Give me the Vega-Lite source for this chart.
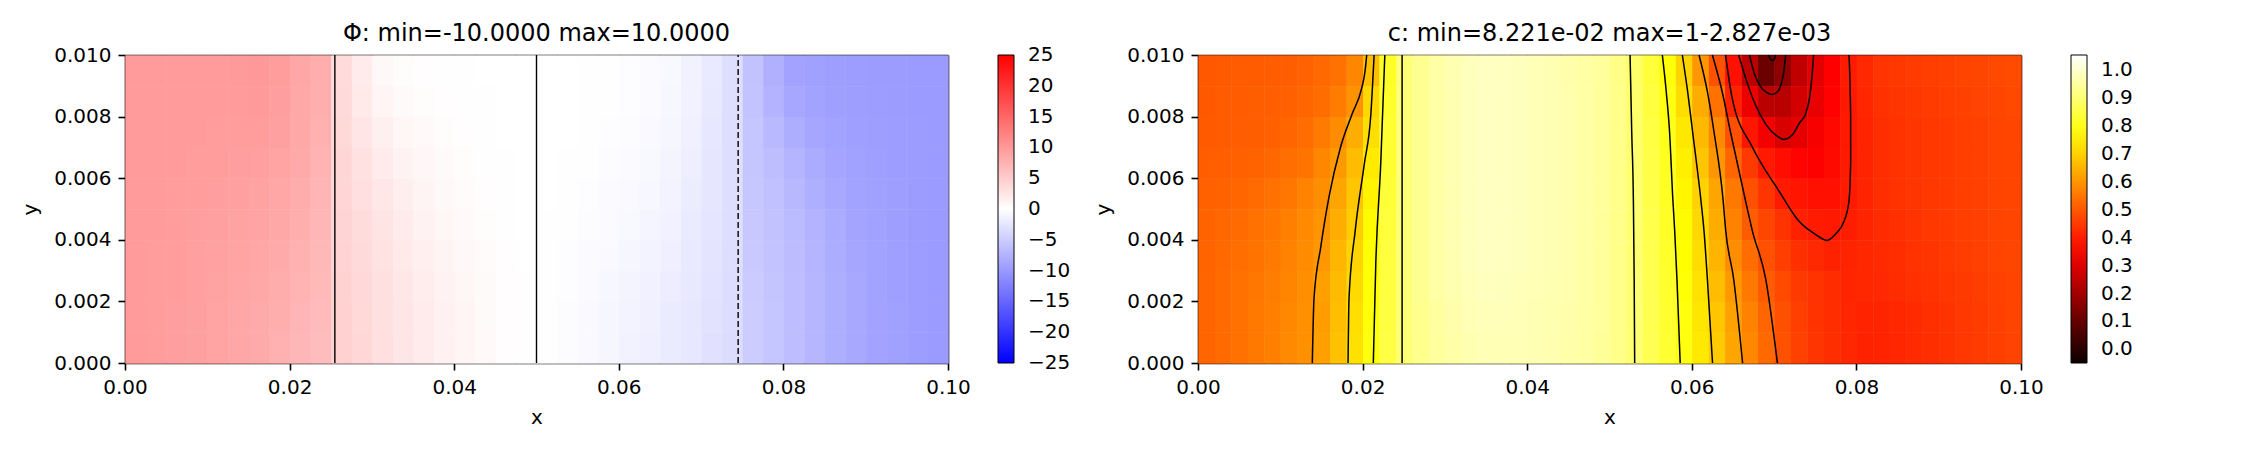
{
"$schema":"https://vega.github.io/schema/vega-lite/v6.json",
"background":"white",
"padding":{"left":20,"top":22,"right":10,"bottom":5},
"bounds":"flush",
"spacing":250,
"config":{
"font":"DejaVu Sans",
"view":{"stroke":null},
"axis":{"domainColor":"black","domainWidth":1.6,"tickColor":"black","tickWidth":1.6,"tickSize":7,"labelPadding":7,"labelFontSize":20,"labelColor":"black","labelFont":"DejaVu Sans","titleFont":"DejaVu Sans","titleFontSize":20,"titleFontWeight":"normal","titleColor":"black","grid":false,"zindex":1,"labelFlush":false,"labelOverlap":false,"labelBound":false},
"legend":{"labelFont":"DejaVu Sans","labelFontSize":20,"labelColor":"black"},
"title":{"font":"DejaVu Sans","fontSize":24,"fontWeight":"normal","color":"black"}
},
"resolve":{"scale":{"color":"independent","x":"independent","y":"independent"},"legend":{"color":"independent"}},
"hconcat":[
{
"width":823,"height":308,
"title":{"text":"Φ: min=-10.0000 max=10.0000","frame":"group","offset":-20,"baseline":"alphabetic"},
"resolve":{"axis":{"x":"independent","y":"independent"}},
"data":{"values":[
{"x":0,"y":0,"v":9.8},{"x":0.0025,"y":0,"v":9.7},{"x":0.005,"y":0,"v":9.5},{"x":0.0075,"y":0,"v":9.3},{"x":0.01,"y":0,"v":9.0},{"x":0.0125,"y":0,"v":8.7},{"x":0.015,"y":0,"v":8.3},{"x":0.0175,"y":0,"v":7.8},{"x":0.02,"y":0,"v":7.2},{"x":0.0225,"y":0,"v":6.6},
{"x":0.025,"y":0,"v":4.5},{"x":0.0275,"y":0,"v":3.9},{"x":0.03,"y":0,"v":3.1},{"x":0.0325,"y":0,"v":2.5},{"x":0.035,"y":0,"v":2.0},{"x":0.0375,"y":0,"v":1.4},{"x":0.04,"y":0,"v":1.0},{"x":0.0425,"y":0,"v":0.55},{"x":0.045,"y":0,"v":0.2},{"x":0.0475,"y":0,"v":0.05},
{"x":0.05,"y":0,"v":-0.1},{"x":0.0525,"y":0,"v":-0.3},{"x":0.055,"y":0,"v":-0.6},{"x":0.0575,"y":0,"v":-0.9},{"x":0.06,"y":0,"v":-1.3},{"x":0.0625,"y":0,"v":-1.6},{"x":0.065,"y":0,"v":-2.0},{"x":0.0675,"y":0,"v":-2.4},{"x":0.07,"y":0,"v":-2.9},{"x":0.0725,"y":0,"v":-3.4},
{"x":0.075,"y":0,"v":-5.0},{"x":0.0775,"y":0,"v":-5.7},{"x":0.08,"y":0,"v":-6.5},{"x":0.0825,"y":0,"v":-7.2},{"x":0.085,"y":0,"v":-7.9},{"x":0.0875,"y":0,"v":-8.5},{"x":0.09,"y":0,"v":-9.0},{"x":0.0925,"y":0,"v":-9.3},{"x":0.095,"y":0,"v":-9.6},{"x":0.0975,"y":0,"v":-9.8},
{"x":0,"y":0.001,"v":9.8},{"x":0.0025,"y":0.001,"v":9.7},{"x":0.005,"y":0.001,"v":9.52},{"x":0.0075,"y":0.001,"v":9.32},{"x":0.01,"y":0.001,"v":9.05},{"x":0.0125,"y":0.001,"v":8.75},{"x":0.015,"y":0.001,"v":8.38},{"x":0.0175,"y":0.001,"v":7.9},{"x":0.02,"y":0.001,"v":7.3},{"x":0.0225,"y":0.001,"v":6.68},
{"x":0.025,"y":0.001,"v":4.48},{"x":0.0275,"y":0.001,"v":3.85},{"x":0.03,"y":0.001,"v":3.08},{"x":0.0325,"y":0.001,"v":2.45},{"x":0.035,"y":0.001,"v":1.92},{"x":0.0375,"y":0.001,"v":1.35},{"x":0.04,"y":0.001,"v":0.95},{"x":0.0425,"y":0.001,"v":0.52},{"x":0.045,"y":0.001,"v":0.2},{"x":0.0475,"y":0.001,"v":0.05},
{"x":0.05,"y":0.001,"v":-0.09},{"x":0.0525,"y":0.001,"v":-0.28},{"x":0.055,"y":0.001,"v":-0.55},{"x":0.0575,"y":0.001,"v":-0.85},{"x":0.06,"y":0.001,"v":-1.22},{"x":0.0625,"y":0.001,"v":-1.52},{"x":0.065,"y":0.001,"v":-1.92},{"x":0.0675,"y":0.001,"v":-2.35},{"x":0.07,"y":0.001,"v":-2.85},{"x":0.0725,"y":0.001,"v":-3.38},
{"x":0.075,"y":0.001,"v":-5.05},{"x":0.0775,"y":0.001,"v":-5.72},{"x":0.08,"y":0.001,"v":-6.5},{"x":0.0825,"y":0.001,"v":-7.2},{"x":0.085,"y":0.001,"v":-7.9},{"x":0.0875,"y":0.001,"v":-8.52},{"x":0.09,"y":0.001,"v":-9.02},{"x":0.0925,"y":0.001,"v":-9.32},{"x":0.095,"y":0.001,"v":-9.6},{"x":0.0975,"y":0.001,"v":-9.8},
{"x":0,"y":0.002,"v":9.8},{"x":0.0025,"y":0.002,"v":9.7},{"x":0.005,"y":0.002,"v":9.58},{"x":0.0075,"y":0.002,"v":9.38},{"x":0.01,"y":0.002,"v":9.15},{"x":0.0125,"y":0.002,"v":8.85},{"x":0.015,"y":0.002,"v":8.52},{"x":0.0175,"y":0.002,"v":8.1},{"x":0.02,"y":0.002,"v":7.5},{"x":0.0225,"y":0.002,"v":6.82},
{"x":0.025,"y":0.002,"v":4.42},{"x":0.0275,"y":0.002,"v":3.75},{"x":0.03,"y":0.002,"v":3.02},{"x":0.0325,"y":0.002,"v":2.35},{"x":0.035,"y":0.002,"v":1.78},{"x":0.0375,"y":0.002,"v":1.25},{"x":0.04,"y":0.002,"v":0.85},{"x":0.0425,"y":0.002,"v":0.48},{"x":0.045,"y":0.002,"v":0.2},{"x":0.0475,"y":0.002,"v":0.05},
{"x":0.05,"y":0.002,"v":-0.06},{"x":0.0525,"y":0.002,"v":-0.22},{"x":0.055,"y":0.002,"v":-0.45},{"x":0.0575,"y":0.002,"v":-0.75},{"x":0.06,"y":0.002,"v":-1.08},{"x":0.0625,"y":0.002,"v":-1.38},{"x":0.065,"y":0.002,"v":-1.78},{"x":0.0675,"y":0.002,"v":-2.25},{"x":0.07,"y":0.002,"v":-2.75},{"x":0.0725,"y":0.002,"v":-3.32},
{"x":0.075,"y":0.002,"v":-5.15},{"x":0.0775,"y":0.002,"v":-5.78},{"x":0.08,"y":0.002,"v":-6.5},{"x":0.0825,"y":0.002,"v":-7.2},{"x":0.085,"y":0.002,"v":-7.9},{"x":0.0875,"y":0.002,"v":-8.58},{"x":0.09,"y":0.002,"v":-9.08},{"x":0.0925,"y":0.002,"v":-9.38},{"x":0.095,"y":0.002,"v":-9.6},{"x":0.0975,"y":0.002,"v":-9.8},
{"x":0,"y":0.003,"v":9.8},{"x":0.0025,"y":0.003,"v":9.72},{"x":0.005,"y":0.003,"v":9.62},{"x":0.0075,"y":0.003,"v":9.45},{"x":0.01,"y":0.003,"v":9.25},{"x":0.0125,"y":0.003,"v":8.98},{"x":0.015,"y":0.003,"v":8.7},{"x":0.0175,"y":0.003,"v":8.3},{"x":0.02,"y":0.003,"v":7.7},{"x":0.0225,"y":0.003,"v":6.98},
{"x":0.025,"y":0.003,"v":4.35},{"x":0.0275,"y":0.003,"v":3.6},{"x":0.03,"y":0.003,"v":2.88},{"x":0.0325,"y":0.003,"v":2.18},{"x":0.035,"y":0.003,"v":1.58},{"x":0.0375,"y":0.003,"v":1.1},{"x":0.04,"y":0.003,"v":0.72},{"x":0.0425,"y":0.003,"v":0.4},{"x":0.045,"y":0.003,"v":0.18},{"x":0.0475,"y":0.003,"v":0.04},
{"x":0.05,"y":0.003,"v":-0.05},{"x":0.0525,"y":0.003,"v":-0.18},{"x":0.055,"y":0.003,"v":-0.35},{"x":0.0575,"y":0.003,"v":-0.62},{"x":0.06,"y":0.003,"v":-0.9},{"x":0.0625,"y":0.003,"v":-1.2},{"x":0.065,"y":0.003,"v":-1.6},{"x":0.0675,"y":0.003,"v":-2.12},{"x":0.07,"y":0.003,"v":-2.65},{"x":0.0725,"y":0.003,"v":-3.28},
{"x":0.075,"y":0.003,"v":-5.25},{"x":0.0775,"y":0.003,"v":-5.85},{"x":0.08,"y":0.003,"v":-6.58},{"x":0.0825,"y":0.003,"v":-7.3},{"x":0.085,"y":0.003,"v":-8.02},{"x":0.0875,"y":0.003,"v":-8.7},{"x":0.09,"y":0.003,"v":-9.15},{"x":0.0925,"y":0.003,"v":-9.42},{"x":0.095,"y":0.003,"v":-9.62},{"x":0.0975,"y":0.003,"v":-9.8},
{"x":0,"y":0.004,"v":9.8},{"x":0.0025,"y":0.004,"v":9.78},{"x":0.005,"y":0.004,"v":9.68},{"x":0.0075,"y":0.004,"v":9.55},{"x":0.01,"y":0.004,"v":9.35},{"x":0.0125,"y":0.004,"v":9.12},{"x":0.015,"y":0.004,"v":8.9},{"x":0.0175,"y":0.004,"v":8.5},{"x":0.02,"y":0.004,"v":7.9},{"x":0.0225,"y":0.004,"v":7.12},
{"x":0.025,"y":0.004,"v":4.25},{"x":0.0275,"y":0.004,"v":3.4},{"x":0.03,"y":0.004,"v":2.62},{"x":0.0325,"y":0.004,"v":1.92},{"x":0.035,"y":0.004,"v":1.32},{"x":0.0375,"y":0.004,"v":0.9},{"x":0.04,"y":0.004,"v":0.58},{"x":0.0425,"y":0.004,"v":0.3},{"x":0.045,"y":0.004,"v":0.12},{"x":0.0475,"y":0.004,"v":0.03},
{"x":0.05,"y":0.004,"v":-0.05},{"x":0.0525,"y":0.004,"v":-0.12},{"x":0.055,"y":0.004,"v":-0.25},{"x":0.0575,"y":0.004,"v":-0.48},{"x":0.06,"y":0.004,"v":-0.7},{"x":0.0625,"y":0.004,"v":-1.0},{"x":0.065,"y":0.004,"v":-1.4},{"x":0.0675,"y":0.004,"v":-1.98},{"x":0.07,"y":0.004,"v":-2.55},{"x":0.0725,"y":0.004,"v":-3.22},
{"x":0.075,"y":0.004,"v":-5.35},{"x":0.0775,"y":0.004,"v":-5.95},{"x":0.08,"y":0.004,"v":-6.72},{"x":0.0825,"y":0.004,"v":-7.5},{"x":0.085,"y":0.004,"v":-8.28},{"x":0.0875,"y":0.004,"v":-8.9},{"x":0.09,"y":0.004,"v":-9.25},{"x":0.0925,"y":0.004,"v":-9.48},{"x":0.095,"y":0.004,"v":-9.68},{"x":0.0975,"y":0.004,"v":-9.8},
{"x":0,"y":0.005,"v":9.8},{"x":0.0025,"y":0.005,"v":9.8},{"x":0.005,"y":0.005,"v":9.72},{"x":0.0075,"y":0.005,"v":9.65},{"x":0.01,"y":0.005,"v":9.48},{"x":0.0125,"y":0.005,"v":9.3},{"x":0.015,"y":0.005,"v":9.12},{"x":0.0175,"y":0.005,"v":8.75},{"x":0.02,"y":0.005,"v":8.12},{"x":0.0225,"y":0.005,"v":7.3},
{"x":0.025,"y":0.005,"v":4.12},{"x":0.0275,"y":0.005,"v":3.18},{"x":0.03,"y":0.005,"v":2.32},{"x":0.0325,"y":0.005,"v":1.62},{"x":0.035,"y":0.005,"v":1.08},{"x":0.0375,"y":0.005,"v":0.7},{"x":0.04,"y":0.005,"v":0.42},{"x":0.0425,"y":0.005,"v":0.21},{"x":0.045,"y":0.005,"v":0.09},{"x":0.0475,"y":0.005,"v":0.02},
{"x":0.05,"y":0.005,"v":-0.04},{"x":0.0525,"y":0.005,"v":-0.09},{"x":0.055,"y":0.005,"v":-0.18},{"x":0.0575,"y":0.005,"v":-0.35},{"x":0.06,"y":0.005,"v":-0.54},{"x":0.0625,"y":0.005,"v":-0.82},{"x":0.065,"y":0.005,"v":-1.22},{"x":0.0675,"y":0.005,"v":-1.82},{"x":0.07,"y":0.005,"v":-2.48},{"x":0.0725,"y":0.005,"v":-3.2},
{"x":0.075,"y":0.005,"v":-5.45},{"x":0.0775,"y":0.005,"v":-6.12},{"x":0.08,"y":0.005,"v":-7.0},{"x":0.0825,"y":0.005,"v":-7.82},{"x":0.085,"y":0.005,"v":-8.55},{"x":0.0875,"y":0.005,"v":-9.08},{"x":0.09,"y":0.005,"v":-9.35},{"x":0.0925,"y":0.005,"v":-9.52},{"x":0.095,"y":0.005,"v":-9.7},{"x":0.0975,"y":0.005,"v":-9.8},
{"x":0,"y":0.006,"v":9.8},{"x":0.0025,"y":0.006,"v":9.8},{"x":0.005,"y":0.006,"v":9.78},{"x":0.0075,"y":0.006,"v":9.75},{"x":0.01,"y":0.006,"v":9.62},{"x":0.0125,"y":0.006,"v":9.5},{"x":0.015,"y":0.006,"v":9.38},{"x":0.0175,"y":0.006,"v":9.05},{"x":0.02,"y":0.006,"v":8.38},{"x":0.0225,"y":0.006,"v":7.5},
{"x":0.025,"y":0.006,"v":3.98},{"x":0.0275,"y":0.006,"v":2.92},{"x":0.03,"y":0.006,"v":1.98},{"x":0.0325,"y":0.006,"v":1.28},{"x":0.035,"y":0.006,"v":0.82},{"x":0.0375,"y":0.006,"v":0.5},{"x":0.04,"y":0.006,"v":0.28},{"x":0.0425,"y":0.006,"v":0.14},{"x":0.045,"y":0.006,"v":0.06},{"x":0.0475,"y":0.006,"v":0.01},
{"x":0.05,"y":0.006,"v":-0.01},{"x":0.0525,"y":0.006,"v":-0.06},{"x":0.055,"y":0.006,"v":-0.12},{"x":0.0575,"y":0.006,"v":-0.25},{"x":0.06,"y":0.006,"v":-0.41},{"x":0.0625,"y":0.006,"v":-0.68},{"x":0.065,"y":0.006,"v":-1.08},{"x":0.0675,"y":0.006,"v":-1.68},{"x":0.07,"y":0.006,"v":-2.42},{"x":0.0725,"y":0.006,"v":-3.2},
{"x":0.075,"y":0.006,"v":-5.55},{"x":0.0775,"y":0.006,"v":-6.38},{"x":0.08,"y":0.006,"v":-7.4},{"x":0.0825,"y":0.006,"v":-8.28},{"x":0.085,"y":0.006,"v":-8.85},{"x":0.0875,"y":0.006,"v":-9.22},{"x":0.09,"y":0.006,"v":-9.45},{"x":0.0925,"y":0.006,"v":-9.58},{"x":0.095,"y":0.006,"v":-9.7},{"x":0.0975,"y":0.006,"v":-9.8},
{"x":0,"y":0.007,"v":9.8},{"x":0.0025,"y":0.007,"v":9.8},{"x":0.005,"y":0.007,"v":9.8},{"x":0.0075,"y":0.007,"v":9.8},{"x":0.01,"y":0.007,"v":9.72},{"x":0.0125,"y":0.007,"v":9.68},{"x":0.015,"y":0.007,"v":9.62},{"x":0.0175,"y":0.007,"v":9.3},{"x":0.02,"y":0.007,"v":8.52},{"x":0.0225,"y":0.007,"v":7.7},
{"x":0.025,"y":0.007,"v":3.8},{"x":0.0275,"y":0.007,"v":2.6},{"x":0.03,"y":0.007,"v":1.52},{"x":0.0325,"y":0.007,"v":0.9},{"x":0.035,"y":0.007,"v":0.56},{"x":0.0375,"y":0.007,"v":0.32},{"x":0.04,"y":0.007,"v":0.16},{"x":0.0425,"y":0.007,"v":0.08},{"x":0.045,"y":0.007,"v":0.04},{"x":0.0475,"y":0.007,"v":0},
{"x":0.05,"y":0.007,"v":0},{"x":0.0525,"y":0.007,"v":-0.04},{"x":0.055,"y":0.007,"v":-0.09},{"x":0.0575,"y":0.007,"v":-0.18},{"x":0.06,"y":0.007,"v":-0.31},{"x":0.0625,"y":0.007,"v":-0.54},{"x":0.065,"y":0.007,"v":-0.92},{"x":0.0675,"y":0.007,"v":-1.52},{"x":0.07,"y":0.007,"v":-2.35},{"x":0.0725,"y":0.007,"v":-3.2},
{"x":0.075,"y":0.007,"v":-5.7},{"x":0.0775,"y":0.007,"v":-6.82},{"x":0.08,"y":0.007,"v":-7.95},{"x":0.0825,"y":0.007,"v":-8.7},{"x":0.085,"y":0.007,"v":-9.12},{"x":0.0875,"y":0.007,"v":-9.38},{"x":0.09,"y":0.007,"v":-9.55},{"x":0.0925,"y":0.007,"v":-9.62},{"x":0.095,"y":0.007,"v":-9.72},{"x":0.0975,"y":0.007,"v":-9.8},
{"x":0,"y":0.008,"v":9.8},{"x":0.0025,"y":0.008,"v":9.8},{"x":0.005,"y":0.008,"v":9.8},{"x":0.0075,"y":0.008,"v":9.8},{"x":0.01,"y":0.008,"v":9.78},{"x":0.0125,"y":0.008,"v":9.82},{"x":0.015,"y":0.008,"v":9.88},{"x":0.0175,"y":0.008,"v":9.5},{"x":0.02,"y":0.008,"v":8.58},{"x":0.0225,"y":0.008,"v":7.9},
{"x":0.025,"y":0.008,"v":3.6},{"x":0.0275,"y":0.008,"v":2.2},{"x":0.03,"y":0.008,"v":0.98},{"x":0.0325,"y":0.008,"v":0.5},{"x":0.035,"y":0.008,"v":0.29},{"x":0.0375,"y":0.008,"v":0.18},{"x":0.04,"y":0.008,"v":0.09},{"x":0.0425,"y":0.008,"v":0.05},{"x":0.045,"y":0.008,"v":0.03},{"x":0.0475,"y":0.008,"v":0},
{"x":0.05,"y":0.008,"v":0},{"x":0.0525,"y":0.008,"v":-0.01},{"x":0.055,"y":0.008,"v":-0.06},{"x":0.0575,"y":0.008,"v":-0.12},{"x":0.06,"y":0.008,"v":-0.24},{"x":0.0625,"y":0.008,"v":-0.41},{"x":0.065,"y":0.008,"v":-0.78},{"x":0.0675,"y":0.008,"v":-1.38},{"x":0.07,"y":0.008,"v":-2.25},{"x":0.0725,"y":0.008,"v":-3.2},
{"x":0.075,"y":0.008,"v":-5.9},{"x":0.0775,"y":0.008,"v":-7.48},{"x":0.08,"y":0.008,"v":-8.65},{"x":0.0825,"y":0.008,"v":-9.1},{"x":0.085,"y":0.008,"v":-9.38},{"x":0.0875,"y":0.008,"v":-9.52},{"x":0.09,"y":0.008,"v":-9.65},{"x":0.0925,"y":0.008,"v":-9.68},{"x":0.095,"y":0.008,"v":-9.78},{"x":0.0975,"y":0.008,"v":-9.8},
{"x":0,"y":0.009,"v":9.8},{"x":0.0025,"y":0.009,"v":9.8},{"x":0.005,"y":0.009,"v":9.8},{"x":0.0075,"y":0.009,"v":9.8},{"x":0.01,"y":0.009,"v":9.8},{"x":0.0125,"y":0.009,"v":9.9},{"x":0.015,"y":0.009,"v":10},{"x":0.0175,"y":0.009,"v":9.6},{"x":0.02,"y":0.009,"v":8.6},{"x":0.0225,"y":0.009,"v":8.0},
{"x":0.025,"y":0.009,"v":3.5},{"x":0.0275,"y":0.009,"v":2.0},{"x":0.03,"y":0.009,"v":0.7},{"x":0.0325,"y":0.009,"v":0.3},{"x":0.035,"y":0.009,"v":0.15},{"x":0.0375,"y":0.009,"v":0.1},{"x":0.04,"y":0.009,"v":0.05},{"x":0.0425,"y":0.009,"v":0.03},{"x":0.045,"y":0.009,"v":0.02},{"x":0.0475,"y":0.009,"v":0},
{"x":0.05,"y":0.009,"v":0},{"x":0.0525,"y":0.009,"v":0},{"x":0.055,"y":0.009,"v":-0.05},{"x":0.0575,"y":0.009,"v":-0.1},{"x":0.06,"y":0.009,"v":-0.2},{"x":0.0625,"y":0.009,"v":-0.35},{"x":0.065,"y":0.009,"v":-0.7},{"x":0.0675,"y":0.009,"v":-1.3},{"x":0.07,"y":0.009,"v":-2.2},{"x":0.0725,"y":0.009,"v":-3.2},
{"x":0.075,"y":0.009,"v":-6.0},{"x":0.0775,"y":0.009,"v":-7.8},{"x":0.08,"y":0.009,"v":-9.0},{"x":0.0825,"y":0.009,"v":-9.3},{"x":0.085,"y":0.009,"v":-9.5},{"x":0.0875,"y":0.009,"v":-9.6},{"x":0.09,"y":0.009,"v":-9.7},{"x":0.0925,"y":0.009,"v":-9.7},{"x":0.095,"y":0.009,"v":-9.8},{"x":0.0975,"y":0.009,"v":-9.8}
]},
"encoding":{
"x":{"field":"x","type":"quantitative","bin":{"binned":true,"step":0.0025},"scale":{"domain":[0,0.1],"nice":false,"zero":false},"axis":{"title":"x","values":[0,0.02,0.04,0.06,0.08,0.1],"format":".2f","titlePadding":10}},
"y":{"field":"y","type":"quantitative","bin":{"binned":true,"step":0.001},"scale":{"domain":[0,0.01],"nice":false,"zero":false},"axis":{"title":"y","values":[0,0.002,0.004,0.006,0.008,0.01],"format":".3f","titlePadding":13}},
"color":{"field":"v","type":"quantitative","scale":{"domain":[-25.02,0,25.02],"range":["#0000ff","#ffffff","#ff0000"],"interpolate":"rgb"},
"legend":{"type":"gradient","title":null,"orient":"right","offset":50,"padding":0,"gradientLength":308,"gradientThickness":16,"values":[-25,-20,-15,-10,-5,0,5,10,15,20,25],"format":"d","labelOffset":14,"labelBaseline":"middle","labelOverlap":false,"gradientStrokeColor":"black","gradientStrokeWidth":1}}
},
"layer":[
{"mark":{"type":"rect","binSpacing":0}},
{"mark":{"type":"rect","binSpacing":0},
"encoding":{
"x":{"field":"x","type":"quantitative","bin":{"binned":true,"step":0.0025},"axis":null},
"y":{"field":"y","type":"quantitative","bin":{"binned":true,"step":0.001},"axis":null}
}},
{"data":{"values":[
{"id":"a","lv":5,"o":0,"x":0.0255,"y":0},{"id":"a","lv":5,"o":1,"x":0.0255,"y":0.01},
{"id":"b","lv":0,"o":0,"x":0.05,"y":0},{"id":"b","lv":0,"o":1,"x":0.05,"y":0.01},
{"id":"c","lv":-5,"o":0,"x":0.0745,"y":0},{"id":"c","lv":-5,"o":1,"x":0.0745,"y":0.01}
]},
"mark":{"type":"line","color":"black","strokeWidth":1.4,"strokeCap":"butt"},
"encoding":{
"x":{"field":"x","type":"quantitative","axis":{"orient":"top","labels":false,"ticks":false,"title":null}},
"y":{"field":"y","type":"quantitative","axis":{"orient":"right","labels":false,"ticks":false,"title":null}},
"color":{"value":"black"},
"detail":{"field":"id"},
"order":{"field":"o"},
"strokeDash":{"condition":{"test":"datum.lv < 0","value":[6,3]},"value":[1,0]}
}}
]
},
{
"width":823,"height":308,
"title":{"text":"c: min=8.221e-02 max=1-2.827e-03","frame":"group","offset":-20,"baseline":"alphabetic"},
"resolve":{"axis":{"x":"independent","y":"independent"}},
"data":{"values":[
{"x":0,"y":0.009,"c":0.5},{"x":0.002,"y":0.009,"c":0.502},{"x":0.004,"y":0.009,"c":0.504},{"x":0.006,"y":0.009,"c":0.506},{"x":0.008,"y":0.009,"c":0.507},{"x":0.01,"y":0.009,"c":0.509},{"x":0.012,"y":0.009,"c":0.516},{"x":0.014,"y":0.009,"c":0.528},{"x":0.016,"y":0.009,"c":0.54},{"x":0.018,"y":0.009,"c":0.576},
{"x":0.02,"y":0.009,"c":0.67},{"x":0.022,"y":0.009,"c":0.818},{"x":0.024,"y":0.009,"c":0.903},{"x":0.026,"y":0.009,"c":0.934},{"x":0.028,"y":0.009,"c":0.957},{"x":0.03,"y":0.009,"c":0.97},{"x":0.032,"y":0.009,"c":0.983},{"x":0.034,"y":0.009,"c":0.988},{"x":0.036,"y":0.009,"c":0.985},{"x":0.038,"y":0.009,"c":0.982},
{"x":0.04,"y":0.009,"c":0.977},{"x":0.042,"y":0.009,"c":0.97},{"x":0.044,"y":0.009,"c":0.963},{"x":0.046,"y":0.009,"c":0.955},{"x":0.048,"y":0.009,"c":0.945},{"x":0.05,"y":0.009,"c":0.924},{"x":0.052,"y":0.009,"c":0.888},{"x":0.054,"y":0.009,"c":0.839},{"x":0.056,"y":0.009,"c":0.784},{"x":0.058,"y":0.009,"c":0.704},
{"x":0.06,"y":0.009,"c":0.605},{"x":0.062,"y":0.009,"c":0.49},{"x":0.064,"y":0.009,"c":0.38},{"x":0.066,"y":0.009,"c":0.243},{"x":0.068,"y":0.009,"c":0.11},{"x":0.07,"y":0.009,"c":0.17},{"x":0.072,"y":0.009,"c":0.25},{"x":0.074,"y":0.009,"c":0.307},{"x":0.076,"y":0.009,"c":0.352},{"x":0.078,"y":0.009,"c":0.398},
{"x":0.08,"y":0.009,"c":0.42},{"x":0.082,"y":0.009,"c":0.44},{"x":0.084,"y":0.009,"c":0.446},{"x":0.086,"y":0.009,"c":0.451},{"x":0.088,"y":0.009,"c":0.457},{"x":0.09,"y":0.009,"c":0.462},{"x":0.092,"y":0.009,"c":0.466},{"x":0.094,"y":0.009,"c":0.47},{"x":0.096,"y":0.009,"c":0.474},{"x":0.098,"y":0.009,"c":0.478},
{"x":0,"y":0.008,"c":0.5},{"x":0.002,"y":0.008,"c":0.504},{"x":0.004,"y":0.008,"c":0.506},{"x":0.006,"y":0.008,"c":0.509},{"x":0.008,"y":0.008,"c":0.511},{"x":0.01,"y":0.008,"c":0.514},{"x":0.012,"y":0.008,"c":0.521},{"x":0.014,"y":0.008,"c":0.534},{"x":0.016,"y":0.008,"c":0.558},{"x":0.018,"y":0.008,"c":0.595},
{"x":0.02,"y":0.008,"c":0.71},{"x":0.022,"y":0.008,"c":0.822},{"x":0.024,"y":0.008,"c":0.903},{"x":0.026,"y":0.008,"c":0.934},{"x":0.028,"y":0.008,"c":0.957},{"x":0.03,"y":0.008,"c":0.97},{"x":0.032,"y":0.008,"c":0.983},{"x":0.034,"y":0.008,"c":0.988},{"x":0.036,"y":0.008,"c":0.985},{"x":0.038,"y":0.008,"c":0.982},
{"x":0.04,"y":0.008,"c":0.977},{"x":0.042,"y":0.008,"c":0.971},{"x":0.044,"y":0.008,"c":0.965},{"x":0.046,"y":0.008,"c":0.957},{"x":0.048,"y":0.008,"c":0.946},{"x":0.05,"y":0.008,"c":0.925},{"x":0.052,"y":0.008,"c":0.891},{"x":0.054,"y":0.008,"c":0.844},{"x":0.056,"y":0.008,"c":0.796},{"x":0.058,"y":0.008,"c":0.719},
{"x":0.06,"y":0.008,"c":0.638},{"x":0.062,"y":0.008,"c":0.542},{"x":0.064,"y":0.008,"c":0.41},{"x":0.066,"y":0.008,"c":0.324},{"x":0.068,"y":0.008,"c":0.24},{"x":0.07,"y":0.008,"c":0.238},{"x":0.072,"y":0.008,"c":0.281},{"x":0.074,"y":0.008,"c":0.318},{"x":0.076,"y":0.008,"c":0.355},{"x":0.078,"y":0.008,"c":0.396},
{"x":0.08,"y":0.008,"c":0.417},{"x":0.082,"y":0.008,"c":0.435},{"x":0.084,"y":0.008,"c":0.441},{"x":0.086,"y":0.008,"c":0.446},{"x":0.088,"y":0.008,"c":0.452},{"x":0.09,"y":0.008,"c":0.457},{"x":0.092,"y":0.008,"c":0.461},{"x":0.094,"y":0.008,"c":0.465},{"x":0.096,"y":0.008,"c":0.469},{"x":0.098,"y":0.008,"c":0.473},
{"x":0,"y":0.007,"c":0.502},{"x":0.002,"y":0.007,"c":0.505},{"x":0.004,"y":0.007,"c":0.508},{"x":0.006,"y":0.007,"c":0.51},{"x":0.008,"y":0.007,"c":0.514},{"x":0.01,"y":0.007,"c":0.521},{"x":0.012,"y":0.007,"c":0.534},{"x":0.014,"y":0.007,"c":0.555},{"x":0.016,"y":0.007,"c":0.585},{"x":0.018,"y":0.007,"c":0.64},
{"x":0.02,"y":0.007,"c":0.722},{"x":0.022,"y":0.007,"c":0.832},{"x":0.024,"y":0.007,"c":0.903},{"x":0.026,"y":0.007,"c":0.934},{"x":0.028,"y":0.007,"c":0.957},{"x":0.03,"y":0.007,"c":0.97},{"x":0.032,"y":0.007,"c":0.983},{"x":0.034,"y":0.007,"c":0.988},{"x":0.036,"y":0.007,"c":0.985},{"x":0.038,"y":0.007,"c":0.982},
{"x":0.04,"y":0.007,"c":0.977},{"x":0.042,"y":0.007,"c":0.971},{"x":0.044,"y":0.007,"c":0.965},{"x":0.046,"y":0.007,"c":0.957},{"x":0.048,"y":0.007,"c":0.946},{"x":0.05,"y":0.007,"c":0.925},{"x":0.052,"y":0.007,"c":0.893},{"x":0.054,"y":0.007,"c":0.85},{"x":0.056,"y":0.007,"c":0.806},{"x":0.058,"y":0.007,"c":0.737},
{"x":0.06,"y":0.007,"c":0.66},{"x":0.062,"y":0.007,"c":0.582},{"x":0.064,"y":0.007,"c":0.484},{"x":0.066,"y":0.007,"c":0.39},{"x":0.068,"y":0.007,"c":0.336},{"x":0.07,"y":0.007,"c":0.292},{"x":0.072,"y":0.007,"c":0.311},{"x":0.074,"y":0.007,"c":0.339},{"x":0.076,"y":0.007,"c":0.367},{"x":0.078,"y":0.007,"c":0.395},
{"x":0.08,"y":0.007,"c":0.413},{"x":0.082,"y":0.007,"c":0.43},{"x":0.084,"y":0.007,"c":0.436},{"x":0.086,"y":0.007,"c":0.441},{"x":0.088,"y":0.007,"c":0.447},{"x":0.09,"y":0.007,"c":0.452},{"x":0.092,"y":0.007,"c":0.456},{"x":0.094,"y":0.007,"c":0.46},{"x":0.096,"y":0.007,"c":0.464},{"x":0.098,"y":0.007,"c":0.468},
{"x":0,"y":0.006,"c":0.507},{"x":0.002,"y":0.006,"c":0.511},{"x":0.004,"y":0.006,"c":0.514},{"x":0.006,"y":0.006,"c":0.518},{"x":0.008,"y":0.006,"c":0.525},{"x":0.01,"y":0.006,"c":0.535},{"x":0.012,"y":0.006,"c":0.545},{"x":0.014,"y":0.006,"c":0.577},{"x":0.016,"y":0.006,"c":0.606},{"x":0.018,"y":0.006,"c":0.665},
{"x":0.02,"y":0.006,"c":0.74},{"x":0.022,"y":0.006,"c":0.83},{"x":0.024,"y":0.006,"c":0.903},{"x":0.026,"y":0.006,"c":0.934},{"x":0.028,"y":0.006,"c":0.957},{"x":0.03,"y":0.006,"c":0.97},{"x":0.032,"y":0.006,"c":0.983},{"x":0.034,"y":0.006,"c":0.988},{"x":0.036,"y":0.006,"c":0.985},{"x":0.038,"y":0.006,"c":0.982},
{"x":0.04,"y":0.006,"c":0.977},{"x":0.042,"y":0.006,"c":0.971},{"x":0.044,"y":0.006,"c":0.965},{"x":0.046,"y":0.006,"c":0.957},{"x":0.048,"y":0.006,"c":0.946},{"x":0.05,"y":0.006,"c":0.926},{"x":0.052,"y":0.006,"c":0.896},{"x":0.054,"y":0.006,"c":0.853},{"x":0.056,"y":0.006,"c":0.811},{"x":0.058,"y":0.006,"c":0.75},
{"x":0.06,"y":0.006,"c":0.68},{"x":0.062,"y":0.006,"c":0.6},{"x":0.064,"y":0.006,"c":0.52},{"x":0.066,"y":0.006,"c":0.45},{"x":0.068,"y":0.006,"c":0.395},{"x":0.07,"y":0.006,"c":0.377},{"x":0.072,"y":0.006,"c":0.359},{"x":0.074,"y":0.006,"c":0.351},{"x":0.076,"y":0.006,"c":0.37},{"x":0.078,"y":0.006,"c":0.397},
{"x":0.08,"y":0.006,"c":0.414},{"x":0.082,"y":0.006,"c":0.43},{"x":0.084,"y":0.006,"c":0.436},{"x":0.086,"y":0.006,"c":0.441},{"x":0.088,"y":0.006,"c":0.447},{"x":0.09,"y":0.006,"c":0.452},{"x":0.092,"y":0.006,"c":0.456},{"x":0.094,"y":0.006,"c":0.46},{"x":0.096,"y":0.006,"c":0.464},{"x":0.098,"y":0.006,"c":0.468},
{"x":0,"y":0.005,"c":0.513},{"x":0.002,"y":0.005,"c":0.518},{"x":0.004,"y":0.005,"c":0.523},{"x":0.006,"y":0.005,"c":0.53},{"x":0.008,"y":0.005,"c":0.54},{"x":0.01,"y":0.005,"c":0.55},{"x":0.012,"y":0.005,"c":0.57},{"x":0.014,"y":0.005,"c":0.59},{"x":0.016,"y":0.005,"c":0.626},{"x":0.018,"y":0.005,"c":0.679},
{"x":0.02,"y":0.005,"c":0.755},{"x":0.022,"y":0.005,"c":0.836},{"x":0.024,"y":0.005,"c":0.903},{"x":0.026,"y":0.005,"c":0.934},{"x":0.028,"y":0.005,"c":0.957},{"x":0.03,"y":0.005,"c":0.97},{"x":0.032,"y":0.005,"c":0.983},{"x":0.034,"y":0.005,"c":0.988},{"x":0.036,"y":0.005,"c":0.985},{"x":0.038,"y":0.005,"c":0.982},
{"x":0.04,"y":0.005,"c":0.977},{"x":0.042,"y":0.005,"c":0.971},{"x":0.044,"y":0.005,"c":0.965},{"x":0.046,"y":0.005,"c":0.957},{"x":0.048,"y":0.005,"c":0.946},{"x":0.05,"y":0.005,"c":0.927},{"x":0.052,"y":0.005,"c":0.898},{"x":0.054,"y":0.005,"c":0.856},{"x":0.056,"y":0.005,"c":0.815},{"x":0.058,"y":0.005,"c":0.76},
{"x":0.06,"y":0.005,"c":0.7},{"x":0.062,"y":0.005,"c":0.626},{"x":0.064,"y":0.005,"c":0.552},{"x":0.066,"y":0.005,"c":0.486},{"x":0.068,"y":0.005,"c":0.441},{"x":0.07,"y":0.005,"c":0.397},{"x":0.072,"y":0.005,"c":0.388},{"x":0.074,"y":0.005,"c":0.38},{"x":0.076,"y":0.005,"c":0.381},{"x":0.078,"y":0.005,"c":0.397},
{"x":0.08,"y":0.005,"c":0.413},{"x":0.082,"y":0.005,"c":0.43},{"x":0.084,"y":0.005,"c":0.436},{"x":0.086,"y":0.005,"c":0.441},{"x":0.088,"y":0.005,"c":0.447},{"x":0.09,"y":0.005,"c":0.452},{"x":0.092,"y":0.005,"c":0.456},{"x":0.094,"y":0.005,"c":0.46},{"x":0.096,"y":0.005,"c":0.464},{"x":0.098,"y":0.005,"c":0.468},
{"x":0,"y":0.004,"c":0.518},{"x":0.002,"y":0.004,"c":0.524},{"x":0.004,"y":0.004,"c":0.53},{"x":0.006,"y":0.004,"c":0.54},{"x":0.008,"y":0.004,"c":0.55},{"x":0.01,"y":0.004,"c":0.563},{"x":0.012,"y":0.004,"c":0.58},{"x":0.014,"y":0.004,"c":0.597},{"x":0.016,"y":0.004,"c":0.641},{"x":0.018,"y":0.004,"c":0.693},
{"x":0.02,"y":0.004,"c":0.768},{"x":0.022,"y":0.004,"c":0.84},{"x":0.024,"y":0.004,"c":0.903},{"x":0.026,"y":0.004,"c":0.934},{"x":0.028,"y":0.004,"c":0.957},{"x":0.03,"y":0.004,"c":0.97},{"x":0.032,"y":0.004,"c":0.983},{"x":0.034,"y":0.004,"c":0.988},{"x":0.036,"y":0.004,"c":0.985},{"x":0.038,"y":0.004,"c":0.982},
{"x":0.04,"y":0.004,"c":0.977},{"x":0.042,"y":0.004,"c":0.971},{"x":0.044,"y":0.004,"c":0.965},{"x":0.046,"y":0.004,"c":0.957},{"x":0.048,"y":0.004,"c":0.946},{"x":0.05,"y":0.004,"c":0.927},{"x":0.052,"y":0.004,"c":0.898},{"x":0.054,"y":0.004,"c":0.858},{"x":0.056,"y":0.004,"c":0.818},{"x":0.058,"y":0.004,"c":0.769},
{"x":0.06,"y":0.004,"c":0.711},{"x":0.062,"y":0.004,"c":0.638},{"x":0.064,"y":0.004,"c":0.571},{"x":0.066,"y":0.004,"c":0.506},{"x":0.068,"y":0.004,"c":0.47},{"x":0.07,"y":0.004,"c":0.439},{"x":0.072,"y":0.004,"c":0.408},{"x":0.074,"y":0.004,"c":0.398},{"x":0.076,"y":0.004,"c":0.396},{"x":0.078,"y":0.004,"c":0.402},
{"x":0.08,"y":0.004,"c":0.414},{"x":0.082,"y":0.004,"c":0.425},{"x":0.084,"y":0.004,"c":0.432},{"x":0.086,"y":0.004,"c":0.439},{"x":0.088,"y":0.004,"c":0.446},{"x":0.09,"y":0.004,"c":0.452},{"x":0.092,"y":0.004,"c":0.456},{"x":0.094,"y":0.004,"c":0.46},{"x":0.096,"y":0.004,"c":0.464},{"x":0.098,"y":0.004,"c":0.468},
{"x":0,"y":0.003,"c":0.519},{"x":0.002,"y":0.003,"c":0.527},{"x":0.004,"y":0.003,"c":0.535},{"x":0.006,"y":0.003,"c":0.545},{"x":0.008,"y":0.003,"c":0.555},{"x":0.01,"y":0.003,"c":0.568},{"x":0.012,"y":0.003,"c":0.585},{"x":0.014,"y":0.003,"c":0.605},{"x":0.016,"y":0.003,"c":0.654},{"x":0.018,"y":0.003,"c":0.704},
{"x":0.02,"y":0.003,"c":0.778},{"x":0.022,"y":0.003,"c":0.844},{"x":0.024,"y":0.003,"c":0.903},{"x":0.026,"y":0.003,"c":0.934},{"x":0.028,"y":0.003,"c":0.957},{"x":0.03,"y":0.003,"c":0.97},{"x":0.032,"y":0.003,"c":0.983},{"x":0.034,"y":0.003,"c":0.988},{"x":0.036,"y":0.003,"c":0.985},{"x":0.038,"y":0.003,"c":0.982},
{"x":0.04,"y":0.003,"c":0.977},{"x":0.042,"y":0.003,"c":0.971},{"x":0.044,"y":0.003,"c":0.965},{"x":0.046,"y":0.003,"c":0.957},{"x":0.048,"y":0.003,"c":0.946},{"x":0.05,"y":0.003,"c":0.927},{"x":0.052,"y":0.003,"c":0.9},{"x":0.054,"y":0.003,"c":0.861},{"x":0.056,"y":0.003,"c":0.822},{"x":0.058,"y":0.003,"c":0.775},
{"x":0.06,"y":0.003,"c":0.719},{"x":0.062,"y":0.003,"c":0.653},{"x":0.064,"y":0.003,"c":0.586},{"x":0.066,"y":0.003,"c":0.532},{"x":0.068,"y":0.003,"c":0.488},{"x":0.07,"y":0.003,"c":0.456},{"x":0.072,"y":0.003,"c":0.434},{"x":0.074,"y":0.003,"c":0.422},{"x":0.076,"y":0.003,"c":0.41},{"x":0.078,"y":0.003,"c":0.414},
{"x":0.08,"y":0.003,"c":0.418},{"x":0.082,"y":0.003,"c":0.423},{"x":0.084,"y":0.003,"c":0.429},{"x":0.086,"y":0.003,"c":0.436},{"x":0.088,"y":0.003,"c":0.442},{"x":0.09,"y":0.003,"c":0.448},{"x":0.092,"y":0.003,"c":0.454},{"x":0.094,"y":0.003,"c":0.459},{"x":0.096,"y":0.003,"c":0.464},{"x":0.098,"y":0.003,"c":0.469},
{"x":0,"y":0.002,"c":0.52},{"x":0.002,"y":0.002,"c":0.53},{"x":0.004,"y":0.002,"c":0.54},{"x":0.006,"y":0.002,"c":0.55},{"x":0.008,"y":0.002,"c":0.56},{"x":0.01,"y":0.002,"c":0.573},{"x":0.012,"y":0.002,"c":0.59},{"x":0.014,"y":0.002,"c":0.616},{"x":0.016,"y":0.002,"c":0.663},{"x":0.018,"y":0.002,"c":0.714},
{"x":0.02,"y":0.002,"c":0.783},{"x":0.022,"y":0.002,"c":0.845},{"x":0.024,"y":0.002,"c":0.903},{"x":0.026,"y":0.002,"c":0.934},{"x":0.028,"y":0.002,"c":0.956},{"x":0.03,"y":0.002,"c":0.968},{"x":0.032,"y":0.002,"c":0.979},{"x":0.034,"y":0.002,"c":0.984},{"x":0.036,"y":0.002,"c":0.982},{"x":0.038,"y":0.002,"c":0.979},
{"x":0.04,"y":0.002,"c":0.975},{"x":0.042,"y":0.002,"c":0.97},{"x":0.044,"y":0.002,"c":0.965},{"x":0.046,"y":0.002,"c":0.957},{"x":0.048,"y":0.002,"c":0.946},{"x":0.05,"y":0.002,"c":0.927},{"x":0.052,"y":0.002,"c":0.9},{"x":0.054,"y":0.002,"c":0.862},{"x":0.056,"y":0.002,"c":0.825},{"x":0.058,"y":0.002,"c":0.781},
{"x":0.06,"y":0.002,"c":0.727},{"x":0.062,"y":0.002,"c":0.666},{"x":0.064,"y":0.002,"c":0.606},{"x":0.066,"y":0.002,"c":0.554},{"x":0.068,"y":0.002,"c":0.505},{"x":0.07,"y":0.002,"c":0.476},{"x":0.072,"y":0.002,"c":0.45},{"x":0.074,"y":0.002,"c":0.438},{"x":0.076,"y":0.002,"c":0.427},{"x":0.078,"y":0.002,"c":0.415},
{"x":0.08,"y":0.002,"c":0.418},{"x":0.082,"y":0.002,"c":0.42},{"x":0.084,"y":0.002,"c":0.426},{"x":0.086,"y":0.002,"c":0.431},{"x":0.088,"y":0.002,"c":0.437},{"x":0.09,"y":0.002,"c":0.443},{"x":0.092,"y":0.002,"c":0.449},{"x":0.094,"y":0.002,"c":0.455},{"x":0.096,"y":0.002,"c":0.461},{"x":0.098,"y":0.002,"c":0.467},
{"x":0,"y":0.001,"c":0.52},{"x":0.002,"y":0.001,"c":0.53},{"x":0.004,"y":0.001,"c":0.54},{"x":0.006,"y":0.001,"c":0.552},{"x":0.008,"y":0.001,"c":0.564},{"x":0.01,"y":0.001,"c":0.578},{"x":0.012,"y":0.001,"c":0.593},{"x":0.014,"y":0.001,"c":0.614},{"x":0.016,"y":0.001,"c":0.668},{"x":0.018,"y":0.001,"c":0.72},
{"x":0.02,"y":0.001,"c":0.786},{"x":0.022,"y":0.001,"c":0.847},{"x":0.024,"y":0.001,"c":0.903},{"x":0.026,"y":0.001,"c":0.93},{"x":0.028,"y":0.001,"c":0.951},{"x":0.03,"y":0.001,"c":0.963},{"x":0.032,"y":0.001,"c":0.974},{"x":0.034,"y":0.001,"c":0.979},{"x":0.036,"y":0.001,"c":0.978},{"x":0.038,"y":0.001,"c":0.976},
{"x":0.04,"y":0.001,"c":0.973},{"x":0.042,"y":0.001,"c":0.968},{"x":0.044,"y":0.001,"c":0.963},{"x":0.046,"y":0.001,"c":0.955},{"x":0.048,"y":0.001,"c":0.945},{"x":0.05,"y":0.001,"c":0.927},{"x":0.052,"y":0.001,"c":0.9},{"x":0.054,"y":0.001,"c":0.865},{"x":0.056,"y":0.001,"c":0.828},{"x":0.058,"y":0.001,"c":0.79},
{"x":0.06,"y":0.001,"c":0.734},{"x":0.062,"y":0.001,"c":0.679},{"x":0.064,"y":0.001,"c":0.62},{"x":0.066,"y":0.001,"c":0.569},{"x":0.068,"y":0.001,"c":0.521},{"x":0.07,"y":0.001,"c":0.485},{"x":0.072,"y":0.001,"c":0.458},{"x":0.074,"y":0.001,"c":0.439},{"x":0.076,"y":0.001,"c":0.428},{"x":0.078,"y":0.001,"c":0.416},
{"x":0.08,"y":0.001,"c":0.411},{"x":0.082,"y":0.001,"c":0.414},{"x":0.084,"y":0.001,"c":0.418},{"x":0.086,"y":0.001,"c":0.425},{"x":0.088,"y":0.001,"c":0.432},{"x":0.09,"y":0.001,"c":0.439},{"x":0.092,"y":0.001,"c":0.445},{"x":0.094,"y":0.001,"c":0.452},{"x":0.096,"y":0.001,"c":0.459},{"x":0.098,"y":0.001,"c":0.466},
{"x":0,"y":0,"c":0.52},{"x":0.002,"y":0,"c":0.53},{"x":0.004,"y":0,"c":0.54},{"x":0.006,"y":0,"c":0.553},{"x":0.008,"y":0,"c":0.565},{"x":0.01,"y":0,"c":0.58},{"x":0.012,"y":0,"c":0.594},{"x":0.014,"y":0,"c":0.616},{"x":0.016,"y":0,"c":0.672},{"x":0.018,"y":0,"c":0.725},
{"x":0.02,"y":0,"c":0.79},{"x":0.022,"y":0,"c":0.849},{"x":0.024,"y":0,"c":0.903},{"x":0.026,"y":0,"c":0.928},{"x":0.028,"y":0,"c":0.948},{"x":0.03,"y":0,"c":0.96},{"x":0.032,"y":0,"c":0.97},{"x":0.034,"y":0,"c":0.975},{"x":0.036,"y":0,"c":0.975},{"x":0.038,"y":0,"c":0.974},
{"x":0.04,"y":0,"c":0.971},{"x":0.042,"y":0,"c":0.967},{"x":0.044,"y":0,"c":0.962},{"x":0.046,"y":0,"c":0.954},{"x":0.048,"y":0,"c":0.944},{"x":0.05,"y":0,"c":0.927},{"x":0.052,"y":0,"c":0.901},{"x":0.054,"y":0,"c":0.866},{"x":0.056,"y":0,"c":0.829},{"x":0.058,"y":0,"c":0.792},
{"x":0.06,"y":0,"c":0.738},{"x":0.062,"y":0,"c":0.688},{"x":0.064,"y":0,"c":0.627},{"x":0.066,"y":0,"c":0.578},{"x":0.068,"y":0,"c":0.528},{"x":0.07,"y":0,"c":0.49},{"x":0.072,"y":0,"c":0.462},{"x":0.074,"y":0,"c":0.442},{"x":0.076,"y":0,"c":0.43},{"x":0.078,"y":0,"c":0.418},
{"x":0.08,"y":0,"c":0.41},{"x":0.082,"y":0,"c":0.412},{"x":0.084,"y":0,"c":0.416},{"x":0.086,"y":0,"c":0.423},{"x":0.088,"y":0,"c":0.43},{"x":0.09,"y":0,"c":0.437},{"x":0.092,"y":0,"c":0.444},{"x":0.094,"y":0,"c":0.451},{"x":0.096,"y":0,"c":0.458},{"x":0.098,"y":0,"c":0.465}
]},
"encoding":{
"x":{"field":"x","type":"quantitative","bin":{"binned":true,"step":0.002},"scale":{"domain":[0,0.1],"nice":false,"zero":false},"axis":{"title":"x","values":[0,0.02,0.04,0.06,0.08,0.1],"format":".2f","titlePadding":10}},
"y":{"field":"y","type":"quantitative","bin":{"binned":true,"step":0.001},"scale":{"domain":[0,0.01],"nice":false,"zero":false},"axis":{"title":"y","values":[0,0.002,0.004,0.006,0.008,0.01],"format":".3f","titlePadding":13}},
"color":{"field":"c","type":"quantitative","scale":{"domain":[-0.049,0.354,0.775,1.055],"range":["#0b0000","#ff0000","#ffff00","#ffffff"],"interpolate":"rgb"},
"legend":{"type":"gradient","title":null,"orient":"right","offset":50,"padding":0,"gradientLength":308,"gradientThickness":16,"values":[0,0.1,0.2,0.3,0.4,0.5,0.6,0.7,0.8,0.9,1.0],"format":".1f","labelOffset":14,"labelBaseline":"middle","labelOverlap":false,"gradientStrokeColor":"black","gradientStrokeWidth":1}}
},
"layer":[
{"mark":{"type":"rect","binSpacing":0}},
{"mark":{"type":"rect","binSpacing":0},
"encoding":{
"x":{"field":"x","type":"quantitative","bin":{"binned":true,"step":0.002},"axis":null},
"y":{"field":"y","type":"quantitative","bin":{"binned":true,"step":0.001},"axis":null}
}},
{"data":{"values":[
{"id":"L6","o":0,"x":0.01389,"y":0},{"id":"L6","o":1,"x":0.0141,"y":0.00212},{"id":"L6","o":2,"x":0.0149,"y":0.00374},{"id":"L6","o":3,"x":0.0159,"y":0.00537},{"id":"L6","o":4,"x":0.0173,"y":0.00699},{"id":"L6","o":5,"x":0.0187,"y":0.00807},{"id":"L6","o":6,"x":0.0199,"y":0.00893},{"id":"L6","o":7,"x":0.0203,"y":0.00948},{"id":"L6","o":8,"x":0.0205,"y":0.01},
{"id":"L7","o":0,"x":0.01823,"y":0},{"id":"L7","o":1,"x":0.01835,"y":0.0021},{"id":"L7","o":2,"x":0.0191,"y":0.00429},{"id":"L7","o":3,"x":0.0202,"y":0.00645},{"id":"L7","o":4,"x":0.021,"y":0.00807},{"id":"L7","o":5,"x":0.0214,"y":0.01},
{"id":"L8","o":0,"x":0.0213,"y":0},{"id":"L8","o":1,"x":0.0216,"y":0.0032},{"id":"L8","o":2,"x":0.0222,"y":0.00645},{"id":"L8","o":3,"x":0.0227,"y":0.01},
{"id":"L9","o":0,"x":0.0248,"y":0},{"id":"L9","o":1,"x":0.0248,"y":0.01},
{"id":"R9","o":0,"x":0.05306,"y":0},{"id":"R9","o":1,"x":0.053,"y":0.0027},{"id":"R9","o":2,"x":0.0529,"y":0.0053},{"id":"R9","o":3,"x":0.0527,"y":0.0075},{"id":"R9","o":4,"x":0.0525,"y":0.01},
{"id":"R8","o":0,"x":0.05859,"y":0},{"id":"R8","o":1,"x":0.0582,"y":0.0027},{"id":"R8","o":2,"x":0.05792,"y":0.0043},{"id":"R8","o":3,"x":0.0577,"y":0.0053},{"id":"R8","o":4,"x":0.0573,"y":0.0075},{"id":"R8","o":5,"x":0.0569,"y":0.0088},{"id":"R8","o":6,"x":0.05642,"y":0.01},
{"id":"R7","o":0,"x":0.06252,"y":0},{"id":"R7","o":1,"x":0.0619,"y":0.0027},{"id":"R7","o":2,"x":0.06148,"y":0.0043},{"id":"R7","o":3,"x":0.0611,"y":0.0053},{"id":"R7","o":4,"x":0.0601,"y":0.0075},{"id":"R7","o":5,"x":0.0595,"y":0.0088},{"id":"R7","o":6,"x":0.05885,"y":0.01},
{"id":"R6","o":0,"x":0.06617,"y":0},{"id":"R6","o":1,"x":0.0651,"y":0.0027},{"id":"R6","o":2,"x":0.06412,"y":0.0043},{"id":"R6","o":3,"x":0.0638,"y":0.0053},{"id":"R6","o":4,"x":0.0627,"y":0.0075},{"id":"R6","o":5,"x":0.0619,"y":0.0088},{"id":"R6","o":6,"x":0.06088,"y":0.01},
{"id":"R5","o":0,"x":0.0704,"y":0},{"id":"R5","o":1,"x":0.069,"y":0.0027},{"id":"R5","o":2,"x":0.06735,"y":0.0043},{"id":"R5","o":3,"x":0.0665,"y":0.0053},{"id":"R5","o":4,"x":0.0647,"y":0.0075},{"id":"R5","o":5,"x":0.0637,"y":0.0088},{"id":"R5","o":6,"x":0.0625,"y":0.01},
{"id":"P4","o":0,"x":0.0641,"y":0.01},{"id":"P4","o":1,"x":0.0649,"y":0.00861},{"id":"P4","o":2,"x":0.0674,"y":0.00699},{"id":"P4","o":3,"x":0.0706,"y":0.00558},{"id":"P4","o":4,"x":0.073,"y":0.00461},{"id":"P4","o":5,"x":0.075,"y":0.00418},{"id":"P4","o":6,"x":0.0764,"y":0.00398},{"id":"P4","o":7,"x":0.0775,"y":0.0042},{"id":"P4","o":8,"x":0.0785,"y":0.0046},{"id":"P4","o":9,"x":0.0791,"y":0.00526},{"id":"P4","o":10,"x":0.0793,"y":0.0065},{"id":"P4","o":11,"x":0.0793,"y":0.008},{"id":"P4","o":12,"x":0.0791,"y":0.01},
{"id":"P3","o":0,"x":0.0657,"y":0.01},{"id":"P3","o":1,"x":0.0666,"y":0.0092},{"id":"P3","o":2,"x":0.0677,"y":0.0084},{"id":"P3","o":3,"x":0.069,"y":0.00775},{"id":"P3","o":4,"x":0.0702,"y":0.0074},{"id":"P3","o":5,"x":0.0712,"y":0.00726},{"id":"P3","o":6,"x":0.0722,"y":0.0074},{"id":"P3","o":7,"x":0.0731,"y":0.0078},{"id":"P3","o":8,"x":0.0738,"y":0.00807},{"id":"P3","o":9,"x":0.0743,"y":0.0086},{"id":"P3","o":10,"x":0.0746,"y":0.0093},{"id":"P3","o":11,"x":0.0748,"y":0.01},
{"id":"P2","o":0,"x":0.067,"y":0.01},{"id":"P2","o":1,"x":0.0676,"y":0.0094},{"id":"P2","o":2,"x":0.0683,"y":0.009},{"id":"P2","o":3,"x":0.069,"y":0.0088},{"id":"P2","o":4,"x":0.0697,"y":0.00872},{"id":"P2","o":5,"x":0.0704,"y":0.0088},{"id":"P2","o":6,"x":0.0709,"y":0.0091},{"id":"P2","o":7,"x":0.0712,"y":0.0095},{"id":"P2","o":8,"x":0.0714,"y":0.01},
{"id":"P1","o":0,"x":0.0693,"y":0.01},{"id":"P1","o":1,"x":0.0696,"y":0.00985},{"id":"P1","o":2,"x":0.0698,"y":0.00982},{"id":"P1","o":3,"x":0.07,"y":0.00985},{"id":"P1","o":4,"x":0.0702,"y":0.01}
]},
"mark":{"type":"line","color":"black","strokeWidth":1.5,"strokeCap":"butt","interpolate":"monotone"},
"encoding":{
"x":{"field":"x","type":"quantitative","axis":{"orient":"top","labels":false,"ticks":false,"title":null}},
"y":{"field":"y","type":"quantitative","axis":{"orient":"right","labels":false,"ticks":false,"title":null}},
"color":{"value":"black"},
"detail":{"field":"id"},
"order":{"field":"o"}
}}
]
}
]
}
